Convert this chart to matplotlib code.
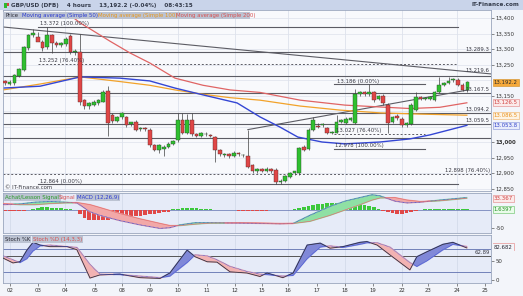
import matplotlib
matplotlib.use("Agg")
import matplotlib.pyplot as plt
import numpy as np

# ---------------- data ----------------
opens = [13.196,13.188,13.190,13.213,13.232,13.303,13.345,13.339,13.323,13.306,
         13.345,13.320,13.312,13.315,13.342,13.290,13.290,13.135,13.115,13.120,
         13.125,13.130,13.165,13.087,13.068,13.080,13.080,13.058,13.065,13.042,
         13.043,13.040,12.990,12.975,12.978,12.985,12.995,13.005,13.070,13.030,
         13.070,13.025,13.020,13.025,13.021,13.015,12.975,12.958,12.960,12.955,
         12.965,12.957,12.955,12.925,12.905,12.912,12.906,12.913,12.910,12.872,
         12.875,12.888,12.900,12.900,12.985,12.978,13.040,13.052,13.055,13.045,
         13.028,13.030,13.065,13.060,13.072,13.060,13.155,13.160,13.155,13.160,
         13.140,13.150,13.120,13.065,13.085,13.075,13.055,13.058,13.103,13.145,
         13.140,13.138,13.135,13.160,13.185,13.190,13.200,13.200,13.185,13.168]
highs = [13.200,13.200,13.220,13.240,13.310,13.350,13.365,13.355,13.328,13.372,
         13.350,13.325,13.322,13.340,13.350,13.300,13.350,13.140,13.130,13.135,
         13.140,13.168,13.180,13.092,13.085,13.098,13.085,13.066,13.070,13.048,
         13.050,13.045,12.995,12.995,12.990,13.000,13.008,13.094,13.094,13.090,
         13.094,13.030,13.032,13.032,13.026,13.020,12.978,12.963,12.965,12.970,
         12.968,12.962,13.040,12.930,12.915,12.916,12.918,12.917,12.915,12.880,
         12.893,12.903,12.908,12.985,12.990,13.045,13.080,13.060,13.060,13.050,
         13.036,13.088,13.075,13.080,13.082,13.170,13.165,13.165,13.186,13.165,
         13.152,13.155,13.125,13.085,13.090,13.080,13.066,13.125,13.160,13.150,
         13.146,13.150,13.165,13.210,13.195,13.210,13.205,13.205,13.190,13.197]
lows = [13.185,13.183,13.185,13.210,13.228,13.298,13.340,13.330,13.295,13.300,
        13.287,13.305,13.308,13.310,13.285,13.282,13.120,13.105,13.108,13.115,
        13.120,13.128,13.020,13.060,13.063,13.075,13.050,13.052,13.035,13.036,
        13.035,12.985,12.970,12.965,12.955,12.980,12.990,13.000,13.025,13.025,
        13.020,13.015,13.015,13.020,13.015,12.937,12.955,12.952,12.950,12.952,
        12.955,12.952,12.915,12.900,12.900,12.903,12.903,12.900,12.864,12.864,
        12.870,12.885,12.895,12.895,12.972,12.975,13.035,13.045,13.048,13.025,
        13.025,13.028,13.060,13.058,13.068,13.058,13.150,13.150,13.150,13.130,
        13.135,13.120,13.030,13.060,13.072,13.050,13.050,13.055,13.100,13.135,
        13.135,13.135,13.133,13.158,13.180,13.186,13.195,13.180,13.165,13.160]
closes = [13.190,13.194,13.215,13.235,13.305,13.345,13.352,13.323,13.303,13.345,
          13.320,13.312,13.318,13.332,13.290,13.292,13.130,13.115,13.125,13.130,
          13.135,13.160,13.062,13.068,13.080,13.093,13.055,13.063,13.040,13.043,
          13.042,12.990,12.975,12.990,12.985,12.995,13.003,13.070,13.030,13.070,
          13.025,13.020,13.028,13.027,13.020,12.975,12.960,12.958,12.955,12.965,
          12.960,12.957,12.920,12.905,12.912,12.907,12.913,12.905,12.872,12.875,
          12.890,12.900,12.905,12.980,12.975,13.040,13.070,13.050,13.055,13.030,
          13.032,13.065,13.070,13.075,13.078,13.155,13.160,13.155,13.160,13.135,
          13.148,13.126,13.062,13.080,13.078,13.055,13.062,13.120,13.145,13.140,
          13.140,13.145,13.160,13.183,13.190,13.198,13.200,13.185,13.168,13.1922]

# moving averages read at sample positions (candle index)
ma50_pos = [-0.4, 7.5, 16.1, 24.6, 31.0, 36.4, 42.4, 49.7, 54.6, 58.9, 62.7, 67.9, 72.8, 80.3, 86.7, 91.0, 98.9]
ma50_val = [13.174, 13.180, 13.210, 13.206, 13.197, 13.174, 13.152, 13.126, 13.081, 13.048, 13.016,
            13.000, 12.994, 13.000, 13.010, 13.023, 13.0538]
ma100_pos = [-0.4, 7.5, 16.1, 24.6, 31.0, 36.4, 42.4, 48.2, 54.6, 63.2, 71.7, 80.3, 88.9, 98.9]
ma100_val = [13.168, 13.187, 13.210, 13.195, 13.183, 13.168, 13.154, 13.143, 13.135, 13.116,
             13.103, 13.094, 13.090, 13.0865]
ma200_pos = [13.9, 16.1, 18.2, 22.5, 26.8, 31.0, 36.4, 42.4, 48.2, 54.6, 63.2, 72.8, 80.3, 86.7, 93.1, 98.9]
ma200_val = [13.41, 13.384, 13.365, 13.325, 13.287, 13.255, 13.206, 13.183, 13.168, 13.160,
             13.135, 13.119, 13.113, 13.108, 13.112, 13.1265]

# MACD (12,26,9)
macd_pos = [-0.4, 3.2, 6.4, 9.6, 12.8, 15.4, 18.2, 20.3, 24.6, 28.9, 33.2, 35.3, 37.5, 40.7,
            43.9, 50.3, 54.6, 58.9, 61.7, 65.3, 69.6, 72.8, 76.0, 78.6, 80.3, 83.5, 86.1, 88.9,
            93.1, 96.4, 98.9]
macd_val = [15, 17, 22, 24, 22, 20, -5, -15, -30, -42, -52, -50, -42, -36, -36, -37, -38, -39,
            -38, -15, 10, 25, 35, 43, 40, 25, 20, 22, 28, 32, 35.0]
signal_val = [18, 15, 15, 18, 20, 21, 15, 7, -10, -25, -38, -44, -44, -40, -37, -36, -37, -38,
              -38, -32, -15, 0, 15, 28, 34, 35, 28, 24, 26, 30, 33.367]
hist_val = [-2, -3, -3, -3, -2, -1,
            3, 6, 8, 8, 7, 6, 5, 4, 3,
            0,
            -12, -22, -27, -28, -28, -27, -27, -26, -24, -22, -20, -19, -17, -16, -14, -12, -10, -9, -7, -5,
            2, 4, 5, 6, 6, 5, 4, 3, 2, 1,
            0, -1, -1, -1,
            -2, -2, -3, -3, -2, -2, -2, -1, -1,
            0, 1, 1, 2,
            5, 9, 12, 15, 17, 18, 19, 20, 20, 21, 22, 21, 20, 18, 15, 12, 8, 4,
            -2, -5, -8, -10, -10, -8, -5, -3,
            1, 2, 3, 3, 4, 3, 3, 2, 2, 2, 1.6397]

# Stochastic (14,3,3)
stoch_pos = [-1.0, 1.7, 3.2, 4.7, 6.0, 7.5, 9.6, 13.3, 15.4, 18.2, 20.3, 24.6, 28.9, 33.2, 35.3,
             39.0, 40.7, 43.3, 45.4, 48.2, 51.8, 54.6, 56.1, 59.5, 61.7, 64.7, 67.5, 69.6, 72.4,
             76.0, 77.5, 79.7, 82.4, 86.7, 88.2, 90.4, 93.8, 95.9, 98.9]
stoch_k = [60, 44, 47, 77, 97, 90, 86, 86, 78, 5, 13, 15, 6, 4, 18, 77, 60, 47, 46, 21, 18, 9, 18,
           6, 18, 90, 95, 82, 86, 97, 99, 90, 65, 26, 60, 73, 92, 97, 82.682]
stoch_d = [65, 52, 45, 55, 75, 88, 90, 86, 84, 40, 15, 14, 10, 6, 10, 45, 65, 62, 52, 35, 22, 15, 14,
           10, 12, 55, 85, 88, 84, 92, 96, 96, 85, 45, 35, 50, 78, 92, 86.413]

day_labels = ["02", "03", "04", "05", "08", "09", "10", "11", "12", "15", "16", "17", "18", "19",
              "22", "23", "24", "25"]
day_pos = [1, 7, 12.8, 19.3, 25, 31, 37, 43.2, 49.2, 55, 60.6, 66.8, 72.8, 78.8, 85, 90.6, 96.8, 102.8]
grid_days = ["02", "04", "08", "10", "12", "16", "18", "22", "24"]

price_ticks = [12.85, 12.90, 12.95, 13.00, 13.15, 13.25, 13.30, 13.35, 13.40]
price_tick_labels = ["12,850", "12,900", "12,950", "13,000", "13,150",
                     "13,250", "13,300", "13,350", "13,400"]
hidden_ticks = [13.05, 13.10, 13.20]

# ---------------- layout helpers ----------------
W, H = 523, 296
fig = plt.figure(figsize=(W / 100, H / 100), dpi=100, facecolor="#f3f5fa")

def axes_px(x0, y0, x1, y1):
    return fig.add_axes([x0 / W, 1 - y1 / H, (x1 - x0) / W, (y1 - y0) / H])

FS = 3.9
XMIN, XMAX = -0.43, 104.07
GRID = "#dde2ec"
n = len(closes)
idx = np.arange(n)

# header band
fig.patches.append(plt.Rectangle((0, 1 - 10 / H), 1, 10 / H, transform=fig.transFigure,
                                 facecolor="#c9d4ea", edgecolor="none", zorder=0))
fig.patches.append(plt.Rectangle((4 / W, 1 - 7.5 / H), 3 / W, 5 / H, transform=fig.transFigure,
                                 facecolor="#2fb82f", edgecolor="none", zorder=1))
fig.patches.append(plt.Rectangle((7 / W, 1 - 6 / H), 2 / W, 3 / H, transform=fig.transFigure,
                                 facecolor="#d94040", edgecolor="none", zorder=1))
fig.text(11 / W, 1 - 5 / H, "GBP/USD (DFB)    4 hours    13,192.2 (-0.04%)    08:43:15",
         fontsize=4.1, fontweight="bold", color="#333a4a", va="center", ha="left")
fig.text(519 / W, 1 - 5 / H, "IT-Finance.com", fontsize=4.1, fontweight="bold",
         color="#333a4a", va="center", ha="right")

# ---------------- main price panel ----------------
ax = axes_px(3, 10, 491, 191)
ax.set_facecolor("#f8f9fc")
ax.set_xlim(XMIN, XMAX)
ax.set_ylim(12.842, 13.4258)
for p in price_ticks + hidden_ticks:
    ax.axhline(p, color=GRID, lw=0.5, zorder=0)
for lab_, pos in zip(day_labels, day_pos):
    if lab_ in grid_days:
        ax.axvline(pos, color=GRID, lw=0.6, zorder=0)

# support / resistance lines
LC = "#5c5c64"
for lvl in [13.2893, 13.213, 13.158, 13.0942, 13.0595, 13.013]:
    ax.axhline(lvl, color=LC, lw=0.8, zorder=1)
ax.axhline(12.898, color=LC, lw=0.7, ls=(0, (2, 2)), zorder=1)
# fibonacci 1
f1 = (7.0, 97.0)
ax.plot(f1, [13.372, 13.372], color=LC, lw=0.8, zorder=1)
ax.plot(f1, [13.252, 13.252], color=LC, lw=0.7, ls=(0, (2, 2)), zorder=1)
ax.plot(f1, [12.864, 12.864], color=LC, lw=0.8, zorder=1)
# fibonacci 2
f2 = (70.5, 90.0)
ax.plot(f2, [13.186, 13.186], color=LC, lw=0.8, zorder=1)
ax.plot(f2, [13.027, 13.027], color=LC, lw=0.7, ls=(0, (2, 2)), zorder=1)
ax.plot(f2, [12.978, 12.978], color=LC, lw=0.8, zorder=1)
# trend lines
ax.plot([-0.4, 104.07], [13.371, 13.2196], color=LC, lw=0.8, zorder=1)
ax.plot([52.0, 99.0], [13.040, 13.1675], color=LC, lw=0.8, zorder=1)

# moving averages
ax.plot(ma200_pos, ma200_val, color="#e06464", lw=0.9, zorder=2)
ax.plot(ma100_pos, ma100_val, color="#f2a22a", lw=0.9, zorder=2)
ax.plot(ma50_pos, ma50_val, color="#3446d4", lw=1.0, zorder=2)

# candles
o = np.array(opens); c = np.array(closes); h = np.array(highs); l = np.array(lows)
up = c >= o
ax.vlines(idx, l, h, color="#404040", lw=0.5, zorder=3)
body = np.where(np.abs(c - o) < 0.002, 0.002, np.abs(c - o))
bottom = np.minimum(o, c)
ax.bar(idx[up], body[up], bottom=bottom[up], width=0.78, color="#2fc02f",
       edgecolor="#2a4a2a", linewidth=0.3, zorder=4)
ax.bar(idx[~up], body[~up], bottom=bottom[~up], width=0.78, color="#e04646",
       edgecolor="#5a2a2a", linewidth=0.3, zorder=4)

# in-chart labels
TC = "#3a3a44"
def lab(x, y, s, ha="left"):
    ax.text(x, y, s, fontsize=FS, color=TC, ha=ha, va="bottom", zorder=6)
lab(7.5, 13.374, "13.372 (100.00%)")
lab(7.2, 13.254, "13.252 (76.40%)")
lab(7.5, 12.866, "12.864 (0.00%)")
lab(71.0, 13.188, "13.186 (0.00%)")
lab(70.8, 13.029, "13.027 (76.40%)")
lab(70.6, 12.980, "12.978 (100.00%)")
lab(103.8, 13.291, "13.289.3", ha="right")
lab(103.8, 13.2215, "13.219.6", ha="right")
lab(103.8, 13.160, "13.167.5", ha="right")
lab(103.8, 13.0962, "13.094.2", ha="right")
lab(103.8, 13.0615, "13.059.5", ha="right")
lab(103.8, 12.900, "12.898 (76.40%)", ha="right")
ax.text(0.0, 12.846, "\u00a9 IT-Finance.com", fontsize=FS, color=TC, ha="left", va="bottom")

# legend row
ax.text(0.002, 0.985, " " * 140, transform=ax.transAxes, fontsize=FS, va="top", ha="left",
        bbox=dict(boxstyle="square,pad=0.15", facecolor="#bcc3d2", edgecolor="none"), zorder=7)
leg_items = [("Price", "#2a2a35"), ("Moving average (Simple 50)", "#2a3ad0"),
             ("Moving average (Simple 100)", "#e8981c"), ("Moving average (Simple 200)", "#d85050")]
xx = 0.006
for s, col in leg_items:
    ax.text(xx, 0.985, s, transform=ax.transAxes, fontsize=FS, color=col,
            va="top", ha="left", zorder=8)
    xx += (len(s) * 0.0058 + 0.004)

# axes styling
ax.yaxis.tick_right()
ax.set_yticks(price_ticks)
ax.set_yticklabels(price_tick_labels)
ax.tick_params(axis="y", labelsize=FS, length=2, width=0.4, pad=1.5, colors="#333")
for tl in ax.get_yticklabels():
    if tl.get_text() == "13,000":
        tl.set_fontweight("bold")
ax.set_xticks([])
for sp in ax.spines.values():
    sp.set_color("#9aa6bd"); sp.set_linewidth(0.6)

def rlabel(a, y, s, fc, ec, tc):
    a.text(1.006, y, s, transform=a.get_yaxis_transform(), fontsize=FS, color=tc,
           va="center", ha="left", zorder=9, clip_on=False,
           bbox=dict(boxstyle="square,pad=0.2", facecolor=fc, edgecolor=ec, linewidth=0.4))
rlabel(ax, 13.1922, "13.192.2", "#f6a93a", "#d08a20", "#2a2a2a")
rlabel(ax, 13.1265, "13.126.5", "#fbeaea", "#e08080", "#d04040")
rlabel(ax, 13.0865, "13.086.5", "#fdf3e4", "#f0b060", "#e8901c")
rlabel(ax, 13.0538, "13.053.8", "#e8ecfb", "#8090d8", "#3040c8")

# ---------------- MACD panel ----------------
am = axes_px(3, 193, 491, 233)
am.set_facecolor("#e6ebf8")
am.set_xlim(XMIN, XMAX)
am.set_ylim(-65, 48)
for lab_, pos in zip(day_labels, day_pos):
    if lab_ in grid_days:
        am.axvline(pos, color="#d4dbea", lw=0.6, zorder=0)
am.axhline(0, color="#6070b0", lw=0.5, zorder=1)
hv = np.array(hist_val)
am.bar(idx, hv, width=0.8, color=np.where(hv >= 0, "#3cc83c", "#e04848"), zorder=2)
mv = np.array(macd_val); sv = np.array(signal_val)
am.fill_between(macd_pos, mv, sv, where=mv >= sv, interpolate=True, color="#8fe0a4", zorder=3)
am.fill_between(macd_pos, mv, sv, where=mv < sv, interpolate=True, color="#f2a8a8", zorder=3)
am.plot(macd_pos, mv, color="#3446d4", lw=0.6, ls=(0, (1, 0.6)), zorder=4)
am.plot(macd_pos, sv, color="#e07070", lw=0.5, zorder=4)
am.yaxis.tick_right()
am.set_yticks([-50])
am.set_yticklabels(["-50"])
am.tick_params(axis="y", labelsize=FS, length=2, width=0.4, pad=1.5, colors="#333")
am.set_xticks([])
for sp in am.spines.values():
    sp.set_color("#9aa6bd"); sp.set_linewidth(0.6)
am.text(0.004, 0.95, "Achat/Lesson Signal ", transform=am.transAxes, fontsize=FS, color="#2a9a2a",
        va="top", ha="left", bbox=dict(boxstyle="square,pad=0.15", facecolor="#bcc3d2", edgecolor="none"))
am.text(0.115, 0.95, "Signal", transform=am.transAxes, fontsize=FS, color="#d85050",
        va="top", ha="left")
am.text(0.152, 0.95, "MACD (12,26,9)", transform=am.transAxes, fontsize=FS, color="#2a3ad0",
        va="top", ha="left", bbox=dict(boxstyle="square,pad=0.15", facecolor="#bcc3d2", edgecolor="none"))
rlabel(am, 33.367, "33.367", "#fbeaea", "#e08080", "#d04040")
rlabel(am, 1.6397, "1.6397", "#eafbea", "#60c060", "#209020")

# ---------------- Stochastic panel ----------------
ast = axes_px(3, 235, 491, 283)
ast.set_facecolor("#e6ebf8")
ast.set_xlim(XMIN, XMAX)
ast.set_ylim(-7.8, 116)
for lab_, pos in zip(day_labels, day_pos):
    if lab_ in grid_days:
        ast.axvline(pos, color="#d4dbea", lw=0.6, zorder=0)
ast.axhline(80, color="#6070b0", lw=0.6, zorder=1)
ast.axhline(20, color="#6070b0", lw=0.6, zorder=1)
ast.axhline(62.89, color="#555", lw=0.7, zorder=1)
kv = np.array(stoch_k); dv = np.array(stoch_d)
ast.fill_between(stoch_pos, kv, dv, where=kv >= dv, interpolate=True, color="#8088d8", zorder=2)
ast.fill_between(stoch_pos, kv, dv, where=kv < dv, interpolate=True, color="#f2b2b2", zorder=2)
ast.plot(stoch_pos, kv, color="#2e2e40", lw=0.6, zorder=3)
ast.plot(stoch_pos, dv, color="#3446d4", lw=0.5, ls=(0, (1, 0.8)), zorder=3)
ast.text(103.8, 63.5, "62.89", fontsize=FS, color=TC, ha="right", va="bottom")
ast.yaxis.tick_right()
ast.set_yticks([0, 50])
ast.set_yticklabels(["0", "50"])
ast.tick_params(axis="y", labelsize=FS, length=2, width=0.4, pad=1.5, colors="#333")
ast.set_xticks(day_pos)
ast.set_xticklabels(day_labels)
ast.tick_params(axis="x", labelsize=FS, length=2, width=0.4, pad=1.5, colors="#333")
for sp in ast.spines.values():
    sp.set_color("#9aa6bd"); sp.set_linewidth(0.6)
ast.text(0.004, 0.96, "Stoch %K", transform=ast.transAxes, fontsize=FS, color="#2a2a35",
         va="top", ha="left", bbox=dict(boxstyle="square,pad=0.15", facecolor="#bcc3d2", edgecolor="none"))
ast.text(0.062, 0.96, "Stoch %D (14,3,3)", transform=ast.transAxes, fontsize=FS, color="#d85050",
         va="top", ha="left", bbox=dict(boxstyle="square,pad=0.15", facecolor="#bcc3d2", edgecolor="none"))
rlabel(ast, 86.413, "86.413", "#fbeaea", "#e08080", "#d04040")
rlabel(ast, 82.682, "82.682", "#f3f5fa", "none", "#2a2a35")

fig.savefig("out.png", dpi=100, facecolor=fig.get_facecolor())
